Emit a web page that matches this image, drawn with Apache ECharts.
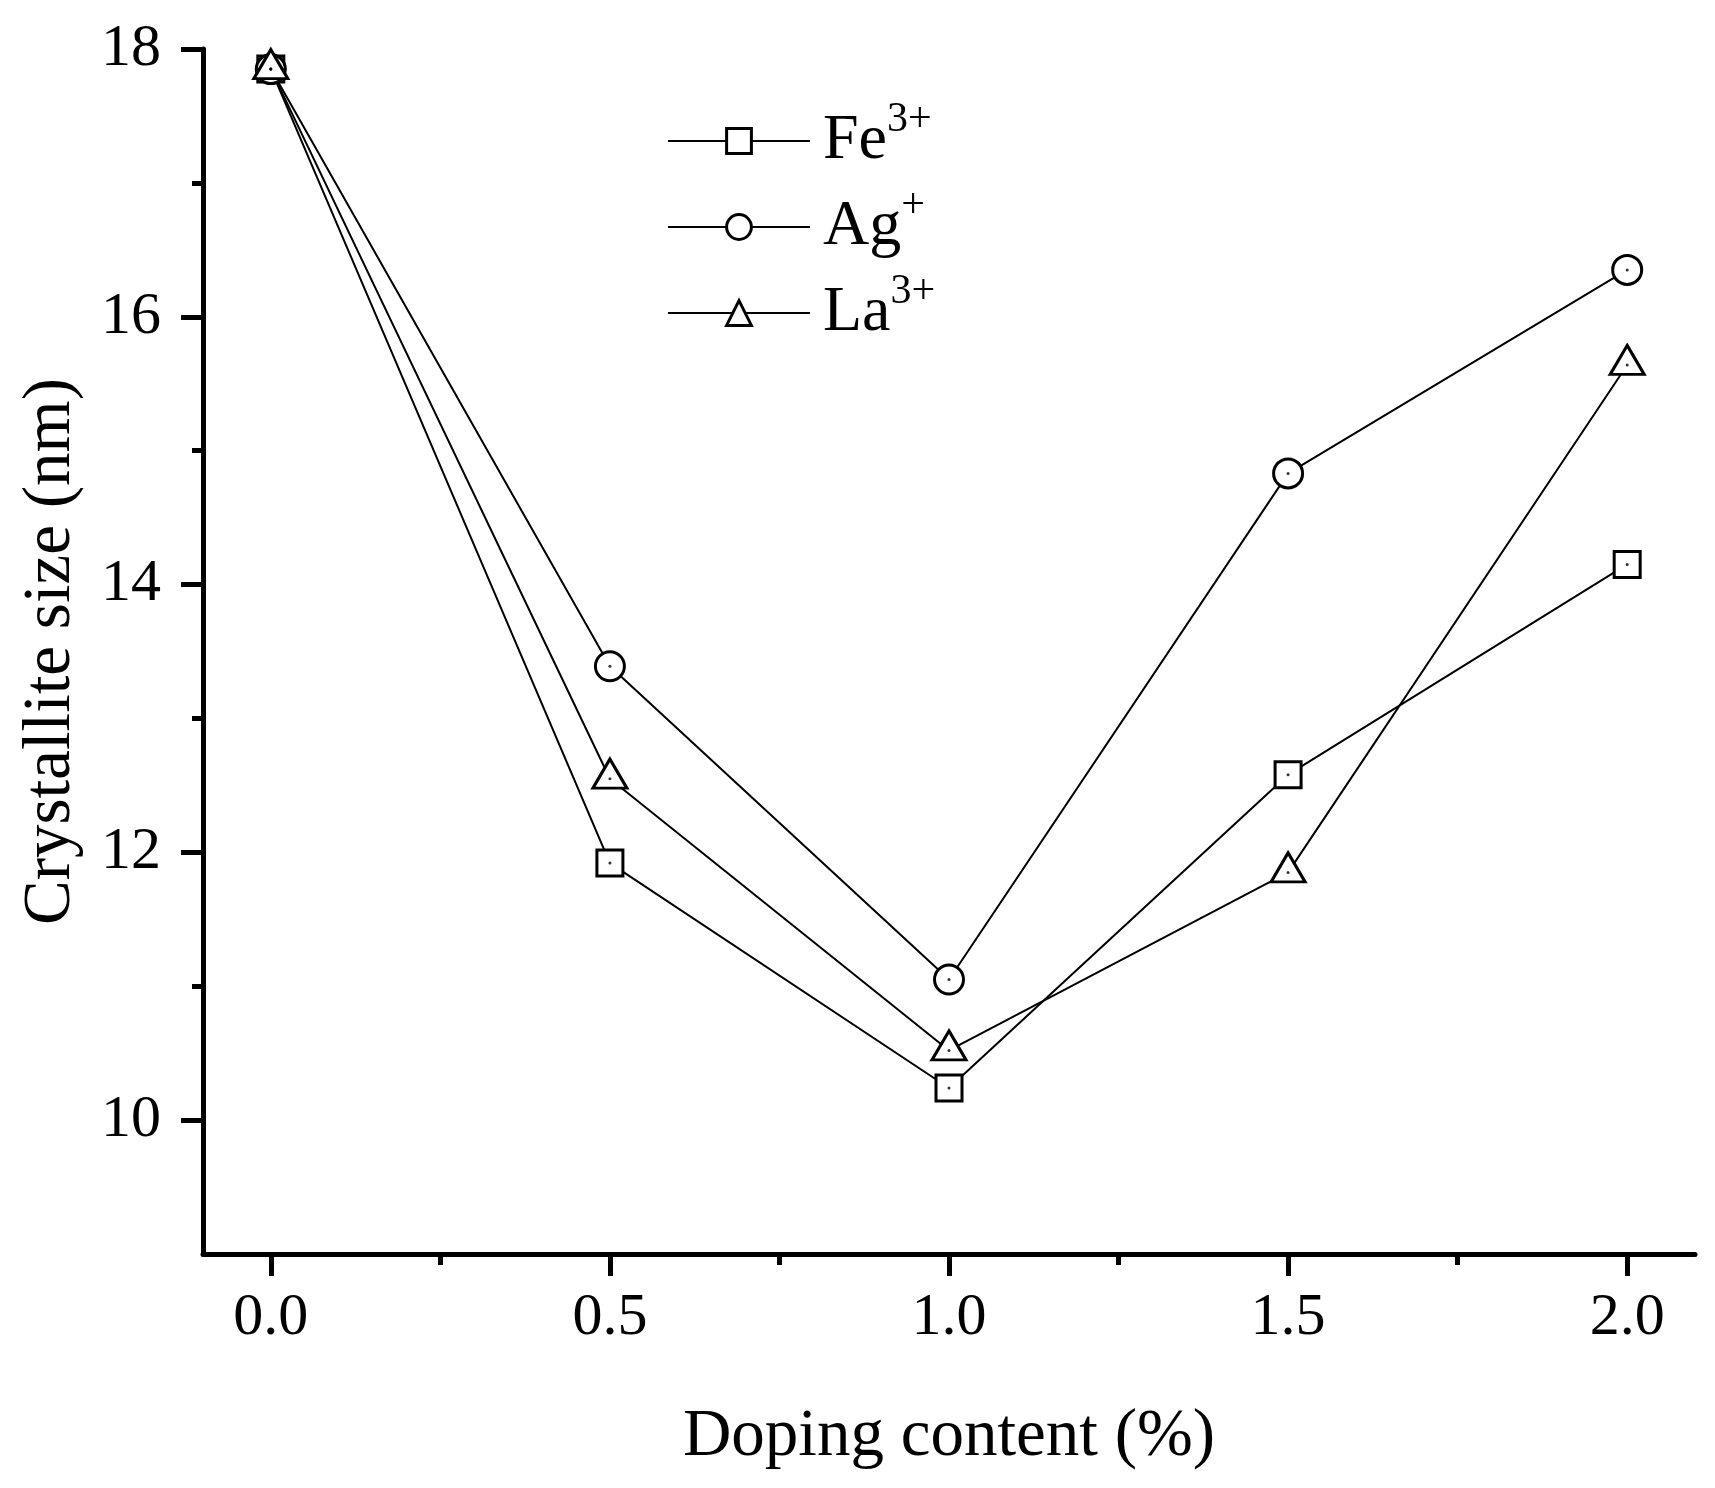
<!DOCTYPE html>
<html>
<head>
<meta charset="utf-8">
<script src="https://cdn.jsdelivr.net/npm/echarts@6/dist/echarts.min.js"></script>
<style>
  html, body { margin: 0; padding: 0; background: #fff; }
  #chart { width: 1715px; height: 1488px; }
</style>
</head>
<body>
<div id="chart"></div>
<script>
// doping content (%)
const dopingContent = [0, 0.5, 1.0, 1.5, 2.0];
// crystallite size (nm) per dopant
const feValues = [17.85, 11.92, 10.24, 12.58, 14.15];
const agValues = [17.85, 13.39, 11.05, 14.83, 16.35];
const laValues = [17.85, 12.55, 10.52, 11.85, 15.64];

const xMajorTicks = [0, 0.5, 1.0, 1.5, 2.0];
const xMinorTicks = [0.25, 0.75, 1.25, 1.75];
const yMajorTicks = [10, 12, 14, 16, 18];
const yMinorTicks = [11, 13, 15, 17];

const FONT = "'Liberation Serif', 'Times New Roman', serif";

const pairs = vals => dopingContent.map((x, i) => [x, vals[i]]);

const chart = echarts.init(document.getElementById('chart'));

const lineSeries = (name, vals, symbol, size, offset) => ({
    name: name,
    type: 'line',
    data: pairs(vals),
    symbol: symbol,
    symbolSize: size,
    symbolOffset: offset || [0, 0],
    showAllSymbol: true,
    lineStyle: { color: '#000', width: 2 },
    itemStyle: { color: '#fff', borderColor: '#000', borderWidth: 3 },
    emphasis: { disabled: true },
    z: 2
});

// the tiny centre dot inside every marker
const dotSeries = vals => ({
    type: 'scatter',
    data: pairs(vals),
    symbol: 'circle',
    symbolSize: 3,
    itemStyle: { color: '#000' },
    silent: true,
    z: 5
});

const option = {
    backgroundColor: '#fff',
    animation: false,
    grid: { left: 203, right: 20, top: 49, bottom: 234 },
    legend: {
        orient: 'vertical',
        left: 662,
        top: 94,
        itemWidth: 142,
        itemHeight: 31,
        itemGap: 12,
        data: ['Fe', 'Ag', 'La'],
        itemStyle: { color: '#fff', borderColor: '#000', borderWidth: 3 },
        lineStyle: { color: '#000', width: 2 },
        formatter: function (name) {
            const sup = { Fe: '3+', Ag: '+', La: '3+' };
            return '{n|' + name + '}{s|' + sup[name] + '}';
        },
        textStyle: {
            fontFamily: FONT,
            color: '#000',
            rich: {
                n: { fontFamily: FONT, fontSize: 64, lineHeight: 84, color: '#000', padding: [0, 0, 0, 8] },
                s: { fontFamily: FONT, fontSize: 42, lineHeight: 42, color: '#000', verticalAlign: 'top' }
            }
        }
    },
    xAxis: [{
        type: 'value',
        min: -0.1,
        max: 2.1,
        position: 'bottom',
        name: 'Doping content (%)',
        nameLocation: 'middle',
        nameGap: 150,
        nameTextStyle: { fontFamily: FONT, fontSize: 67, color: '#000' },
        axisLine: { show: true, onZero: false, lineStyle: { color: '#000', width: 5 } },
        axisTick: { show: true, customValues: xMajorTicks, length: 22, lineStyle: { color: '#000', width: 5 } },
        axisLabel: {
            customValues: xMajorTicks,
            margin: 34,
            fontFamily: FONT, fontSize: 60, color: '#000',
            formatter: v => v.toFixed(1)
        },
        splitLine: { show: false }
    }, {
        type: 'value',
        min: -0.1,
        max: 2.1,
        position: 'bottom',
        axisLine: { show: false, onZero: false },
        axisTick: { show: true, customValues: xMinorTicks, length: 11, lineStyle: { color: '#000', width: 5 } },
        axisLabel: { show: false },
        splitLine: { show: false }
    }],
    yAxis: [{
        type: 'value',
        min: 9,
        max: 18,
        position: 'left',
        name: 'Crystallite size (nm)',
        nameLocation: 'middle',
        nameGap: 118,
        nameTextStyle: { fontFamily: FONT, fontSize: 67, color: '#000' },
        axisLine: { show: true, onZero: false, lineStyle: { color: '#000', width: 5 } },
        axisTick: { show: true, customValues: yMajorTicks, length: 22, lineStyle: { color: '#000', width: 5 } },
        axisLabel: {
            customValues: yMajorTicks,
            margin: 42,
            fontFamily: FONT, fontSize: 60, color: '#000'
        },
        splitLine: { show: false }
    }, {
        type: 'value',
        min: 9,
        max: 18,
        position: 'left',
        axisLine: { show: false, onZero: false },
        axisTick: { show: true, customValues: yMinorTicks, length: 11, lineStyle: { color: '#000', width: 5 } },
        axisLabel: { show: false },
        splitLine: { show: false }
    }],
    series: [
        lineSeries('Fe', feValues, 'rect', 26),
        lineSeries('Ag', agValues, 'circle', 29),
        lineSeries('La', laValues, 'triangle', [34, 29], [0, -5]),
        dotSeries(feValues),
        dotSeries(agValues),
        dotSeries(laValues)
    ]
};

chart.setOption(option);
</script>
</body>
</html>
